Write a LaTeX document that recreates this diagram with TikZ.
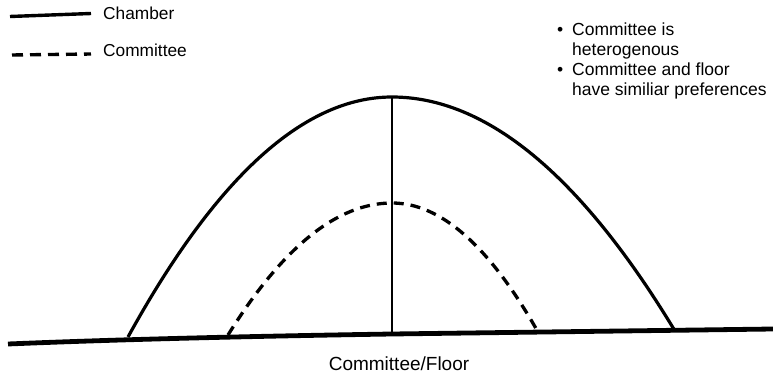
\documentclass[tikz,border=0pt]{standalone}
\usepackage{fontspec}
\setmainfont{Liberation Sans}
\begin{document}
\begin{tikzpicture}[x=1pt,y=-1pt,
  chamberline/.style={line width=3.2pt},
  committeeline/.style={line width=3.3pt, dash pattern=on 10pt off 7pt},
  baseline/.style={line width=4.8pt},
  medianline/.style={line width=1.6pt},
  legendtext/.style={font=\fontsize{17.3}{20}\selectfont, anchor=base west, inner sep=0pt},
  notetext/.style={font=\fontsize{17.5}{20}\selectfont, anchor=base west, inner sep=0pt},
  axislabel/.style={font=\fontsize{19}{22}\selectfont, anchor=base, inner sep=0pt}]
\useasboundingbox (0,0) rectangle (773,374);
% legend
\coordinate (l1a) at (10,16.5);
\coordinate (l1b) at (91,13.5);
\coordinate (l2a) at (12,55);
\coordinate (l2b) at (91,54);
\draw[line width=3.4pt] (l1a) -- (l1b);
\draw[line width=3.4pt, dash pattern=on 11pt off 7pt] (l2a) -- (l2b);
\node[legendtext] (chamberlbl) at (103,20) {Chamber};
\node[legendtext] (committeelbl) at (103,57) {Committee};
% notes
\node[notetext] (b1) at (557,36) {\textbullet};
\node[notetext] (n1) at (572,36) {Committee is};
\node[notetext] (n2) at (572,56) {heterogenous};
\node[notetext] (b2) at (557,76) {\textbullet};
\node[notetext] (n3) at (572,76) {Committee and floor};
\node[notetext] (n4) at (572,96) {have similiar preferences};
% baseline
\coordinate (bl) at (8,344);
\coordinate (br) at (773,329);
\draw[baseline] (bl) .. controls (80,341) and (200,337) .. (392,334) -- (br);
% chamber curve
\coordinate (cl) at (128,337);
\coordinate (ctop) at (392,97);
\coordinate (cr) at (675,331);
\draw[chamberline] (cl) .. controls (216,177) and (304,97) .. (ctop)
  .. controls (486.3,97) and (580.7,175) .. (cr);
% committee curve
\coordinate (ml) at (228,335);
\coordinate (mtop) at (392,203);
\coordinate (mr) at (538,332);
\draw[committeeline] (ml) .. controls (282.7,247) and (337.3,203) .. (mtop)
  .. controls (440.7,203) and (489.3,246) .. (mr);
% median line
\coordinate (mb) at (392,334);
\draw[medianline] (ctop) -- (mb);
\node[axislabel] (xlabel) at (399,370) {Committee/Floor};
\end{tikzpicture}
\end{document}
